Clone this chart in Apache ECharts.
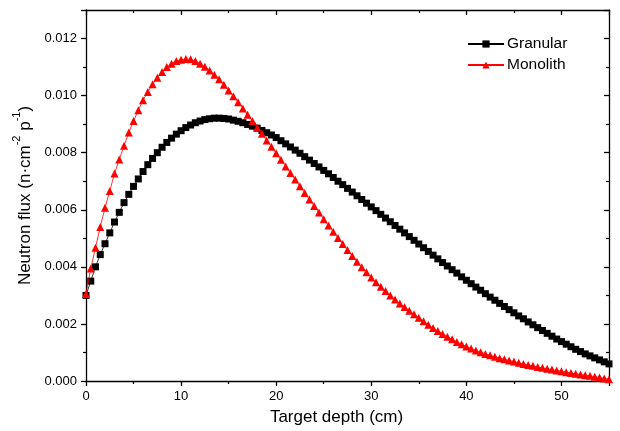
<!DOCTYPE html>
<html>
<head>
<meta charset="utf-8">
<script src="https://cdn.jsdelivr.net/npm/echarts@6/dist/echarts.min.js"></script>
<style>
html,body{margin:0;padding:0;background:#fff;}
#chart{width:620px;height:431px;}
</style>
</head>
<body>
<div id="chart"></div>
<script>
var depth = [0,0.5,1,1.5,2,2.5,3,3.5,4,4.5,5,5.5,6,6.5,7,7.5,8,8.5,9,9.5,10,10.5,11,11.5,12,12.5,13,13.5,14,14.5,15,15.5,16,16.5,17,17.5,18,18.5,19,19.5,20,20.5,21,21.5,22,22.5,23,23.5,24,24.5,25,25.5,26,26.5,27,27.5,28,28.5,29,29.5,30,30.5,31,31.5,32,32.5,33,33.5,34,34.5,35,35.5,36,36.5,37,37.5,38,38.5,39,39.5,40,40.5,41,41.5,42,42.5,43,43.5,44,44.5,45,45.5,46,46.5,47,47.5,48,48.5,49,49.5,50,50.5,51,51.5,52,52.5,53,53.5,54,54.5,55];

var granular = [0.00300,0.00350,0.00400,0.00443,0.00481,0.00519,0.00557,0.00591,0.00625,0.00654,0.00682,0.00708,0.00734,0.00758,0.00780,0.00800,0.00819,0.00836,0.00851,0.00865,0.00877,0.00888,0.00897,0.00905,0.00911,0.00916,0.00919,0.00921,0.00921,0.00920,0.00918,0.00914,0.00910,0.00905,0.00899,0.00893,0.00886,0.00878,0.00870,0.00862,0.00853,0.00842,0.00831,0.00820,0.00809,0.00798,0.00786,0.00774,0.00762,0.00750,0.00738,0.00726,0.00713,0.00700,0.00688,0.00675,0.00662,0.00649,0.00636,0.00623,0.00610,0.00597,0.00584,0.00571,0.00558,0.00545,0.00532,0.00519,0.00506,0.00493,0.00480,0.00467,0.00454,0.00441,0.00428,0.00415,0.00403,0.00390,0.00378,0.00365,0.00353,0.00341,0.00329,0.00318,0.00306,0.00294,0.00283,0.00272,0.00261,0.00250,0.00239,0.00228,0.00218,0.00207,0.00197,0.00187,0.00177,0.00167,0.00157,0.00147,0.00138,0.00129,0.00120,0.00111,0.00103,0.00095,0.00088,0.00081,0.00074,0.00067,0.00060];

var monolith = [0.00305,0.00394,0.00467,0.00540,0.00607,0.00666,0.00727,0.00776,0.00824,0.00871,0.00911,0.00949,0.00984,0.01013,0.01040,0.01063,0.01083,0.01100,0.01112,0.01121,0.01126,0.01128,0.01127,0.01121,0.01112,0.01101,0.01088,0.01073,0.01057,0.01038,0.01018,0.00998,0.00977,0.00955,0.00933,0.00911,0.00888,0.00866,0.00843,0.00821,0.00798,0.00775,0.00752,0.00729,0.00706,0.00682,0.00659,0.00636,0.00613,0.00590,0.00567,0.00545,0.00523,0.00501,0.00480,0.00459,0.00438,0.00418,0.00399,0.00381,0.00363,0.00346,0.00330,0.00315,0.00300,0.00286,0.00272,0.00259,0.00246,0.00234,0.00222,0.00209,0.00197,0.00186,0.00175,0.00165,0.00155,0.00146,0.00137,0.00129,0.00121,0.00114,0.00107,0.00101,0.00095,0.00090,0.00085,0.00080,0.00076,0.00072,0.00068,0.00064,0.00060,0.00056,0.00053,0.00049,0.00046,0.00043,0.00040,0.00037,0.00034,0.00031,0.00028,0.00025,0.00023,0.00020,0.00018,0.00015,0.00012,0.00009,0.00006];

var seriesNames = ['Granular', 'Monolith'];
var xTitle = 'Target depth (cm)';

function pairs(ys){ return depth.map(function(x,i){ return [x, ys[i]]; }); }

var FONT = 'Liberation Sans, Arial, sans-serif';
var axisLineStyle = {color:'#000', width:1.3};

var chart = echarts.init(document.getElementById('chart'), null, {renderer:'canvas'});
chart.setOption({
  animation:false,
  backgroundColor:'#fff',
  grid:{left:86, right:11, top:10, bottom:50, containLabel:false},
  legend:{
    left:462, top:31, orient:'vertical', itemGap:5,
    itemWidth:36, itemHeight:9,
    textStyle:{fontFamily:FONT, fontSize:15.5, color:'#000', padding:[0,0,0,-2]},
    data:seriesNames
  },
  xAxis:[{
    type:'value', min:0, max:55, interval:10, position:'bottom',
    name:xTitle, nameLocation:'middle', nameGap:28,
    nameTextStyle:{fontFamily:FONT, fontSize:17, color:'#000', padding:[0,22,0,0]},
    axisLine:{show:true, onZero:false, lineStyle:axisLineStyle},
    axisTick:{show:true, inside:false, length:5, lineStyle:{color:'#000', width:1.3}},
    minorTick:{show:true, splitNumber:2, length:3, lineStyle:{color:'#000', width:1.2}},
    axisLabel:{fontFamily:FONT, fontSize:13, color:'#000', margin:9, showMaxLabel:false},
    splitLine:{show:false}
  },{
    type:'value', min:0, max:55, interval:10, position:'top',
    axisLine:{show:true, onZero:false, lineStyle:axisLineStyle},
    axisTick:{show:true, inside:true, length:5, lineStyle:{color:'#000', width:1.3}},
    minorTick:{show:true, splitNumber:2, length:3, lineStyle:{color:'#000', width:1.2}},
    axisLabel:{show:false}, splitLine:{show:false}
  }],
  yAxis:[{
    type:'value', min:0, max:0.013, interval:0.002, position:'left',
    name:'{a|Neutron flux (n·cm}{s|-2}{a| p}{s|-1}{a|)}',
    nameLocation:'middle', nameGap:50, nameRotate:90,
    nameTextStyle:{
      fontFamily:FONT, color:'#000',
      rich:{
        a:{fontFamily:FONT, fontSize:17, color:'#000', lineHeight:22, verticalAlign:'bottom'},
        s:{fontFamily:FONT, fontSize:11, color:'#000', lineHeight:22, verticalAlign:'top'}
      }
    },
    axisLine:{show:true, onZero:false, lineStyle:axisLineStyle},
    axisTick:{show:true, inside:false, length:5, lineStyle:{color:'#000', width:1.3}},
    minorTick:{show:true, splitNumber:2, length:3, lineStyle:{color:'#000', width:1.2}},
    axisLabel:{fontFamily:FONT, fontSize:13, color:'#000', margin:9, showMaxLabel:false,
      formatter:function(v){ return v.toFixed(3); }},
    splitLine:{show:false}
  },{
    type:'value', min:0, max:0.013, interval:0.002, position:'right',
    axisLine:{show:true, onZero:false, lineStyle:axisLineStyle},
    axisTick:{show:true, inside:true, length:5, lineStyle:{color:'#000', width:1.3}},
    minorTick:{show:true, splitNumber:2, length:3, lineStyle:{color:'#000', width:1.2}},
    axisLabel:{show:false}, splitLine:{show:false}
  }],
  series:[{
    name:seriesNames[0], type:'line', xAxisIndex:0, yAxisIndex:0,
    data:pairs(granular),
    symbol:'rect', symbolSize:7, showAllSymbol:true,
    lineStyle:{color:'#000', width:0.8},
    itemStyle:{color:'#000'},
    z:2
  },{
    name:seriesNames[1], type:'line', xAxisIndex:0, yAxisIndex:0,
    data:pairs(monolith),
    symbol:'triangle', symbolSize:[8,8], showAllSymbol:true,
    lineStyle:{color:'#ff0000', width:0.8},
    itemStyle:{color:'#ff0000'},
    z:3
  }]
});
</script>
</body>
</html>
